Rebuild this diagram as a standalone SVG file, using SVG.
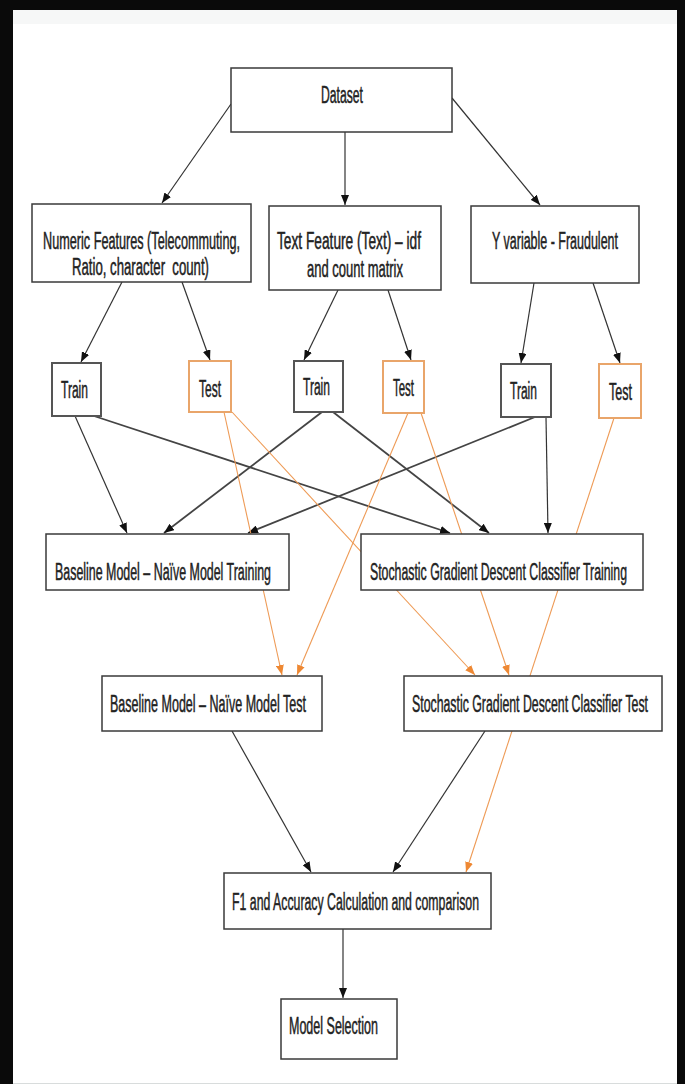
<svg xmlns="http://www.w3.org/2000/svg" width="685" height="1084" viewBox="0 0 685 1084">
<style>
.box{fill:#fff;stroke:#3a3a3a;stroke-width:1.5}
.train{fill:#fff;stroke:#555;stroke-width:2}
.test{fill:#fff;stroke:#E9A56A;stroke-width:2}
.t{font-family:"Liberation Sans",Arial,sans-serif;font-size:23px;fill:#222;stroke:#222;stroke-width:0.5}
.k{stroke:#333;stroke-width:1.2;fill:none}
.kb{stroke:#444;stroke-width:1.8;fill:none}
.o{stroke:#EE9A55;stroke-width:1.1;fill:none}
</style>
<defs>
<marker id="ak" markerUnits="userSpaceOnUse" markerWidth="10" markerHeight="8" refX="10" refY="4" orient="auto"><path d="M0,0 L10,4 L0,8 z" fill="#111"/></marker>
<marker id="ao" markerUnits="userSpaceOnUse" markerWidth="10" markerHeight="8" refX="10" refY="4" orient="auto"><path d="M0,0 L10,4 L0,8 z" fill="#EE8833"/></marker>
</defs>
<rect x="0" y="0" width="685" height="1084" fill="#0a0a0a"/>
<rect x="13" y="10" width="664" height="1074" fill="#fff"/>
<rect x="13" y="10" width="664" height="14" fill="#f6f7f7"/>
<line x1="13" y1="1083.5" x2="677" y2="1083.5" stroke="#d8dcdc" stroke-width="1"/>

<g id="connectors">
<line class="k" x1="231" y1="104" x2="162" y2="203" marker-end="url(#ak)"/>
<line class="k" x1="345" y1="132" x2="345" y2="205" marker-end="url(#ak)"/>
<line class="k" x1="452" y1="98" x2="540" y2="205" marker-end="url(#ak)"/>
<line class="k" x1="122" y1="282" x2="81" y2="362" marker-end="url(#ak)"/>
<line class="k" x1="182" y1="282" x2="210" y2="360" marker-end="url(#ak)"/>
<line class="k" x1="338" y1="290" x2="304" y2="360" marker-end="url(#ak)"/>
<line class="k" x1="388" y1="290" x2="411" y2="360" marker-end="url(#ak)"/>
<line class="k" x1="534" y1="283" x2="521" y2="363" marker-end="url(#ak)"/>
<line class="k" x1="593" y1="283" x2="620" y2="363" marker-end="url(#ak)"/>
<line class="k" x1="75" y1="416" x2="127" y2="533" marker-end="url(#ak)"/>
<line class="kb" x1="94" y1="416" x2="450" y2="533" marker-end="url(#ak)"/>
<line class="kb" x1="322" y1="412" x2="164" y2="533" marker-end="url(#ak)"/>
<line class="kb" x1="333" y1="412" x2="489" y2="533" marker-end="url(#ak)"/>
<line class="kb" x1="535" y1="417" x2="248" y2="533" marker-end="url(#ak)"/>
<line class="k" x1="546" y1="417" x2="548" y2="533" marker-end="url(#ak)"/>
<line class="o" x1="224" y1="412" x2="282" y2="675" marker-end="url(#ao)"/>
<line class="o" x1="232" y1="412" x2="475" y2="675" marker-end="url(#ao)"/>
<line class="o" x1="408" y1="413" x2="297" y2="675" marker-end="url(#ao)"/>
<line class="o" x1="421" y1="413" x2="509" y2="675" marker-end="url(#ao)"/>
<line class="o" x1="614" y1="418" x2="466" y2="872" marker-end="url(#ao)"/>
<line class="k" x1="232" y1="731" x2="311" y2="872" marker-end="url(#ak)"/>
<line class="k" x1="485" y1="731" x2="393" y2="872" marker-end="url(#ak)"/>
<line class="k" x1="343" y1="929" x2="343" y2="998" marker-end="url(#ak)"/>
</g>

<g id="dataset"><rect class="box" x="231" y="68" width="221" height="64"/><text class="t" transform="translate(321,103) scale(0.53,1)" textLength="79.2" lengthAdjust="spacingAndGlyphs">Dataset</text></g>
<g id="numeric"><rect class="box" x="32" y="204" width="219" height="78"/><text class="t" transform="translate(43,249) scale(0.53,1)" textLength="371.7" lengthAdjust="spacingAndGlyphs">Numeric Features (Telecommuting,</text><text class="t" xml:space="preserve" transform="translate(72,275) scale(0.53,1)" textLength="258.5" lengthAdjust="spacingAndGlyphs">Ratio, character  count)</text></g>
<g id="textfeature"><rect class="box" x="269" y="206" width="172" height="84"/><text class="t" transform="translate(277,249) scale(0.53,1)" textLength="271.7" lengthAdjust="spacingAndGlyphs">Text Feature (Text) – idf</text><text class="t" transform="translate(307,277) scale(0.53,1)" textLength="181.1" lengthAdjust="spacingAndGlyphs">and count matrix</text></g>
<g id="yvar"><rect class="box" x="471" y="206" width="168" height="77"/><text class="t" transform="translate(492,249) scale(0.53,1)" textLength="237.7" lengthAdjust="spacingAndGlyphs">Y variable - Fraudulent</text></g>
<g id="train1"><rect class="train" x="52" y="363" width="49" height="53"/><text class="t" transform="translate(61,398) scale(0.53,1)" textLength="50.9" lengthAdjust="spacingAndGlyphs">Train</text></g>
<g id="test1"><rect class="test" x="189" y="361" width="42" height="51"/><text class="t" transform="translate(199,397) scale(0.53,1)" textLength="41.5" lengthAdjust="spacingAndGlyphs">Test</text></g>
<g id="train2"><rect class="train" x="294" y="361" width="49" height="51"/><text class="t" transform="translate(303,395) scale(0.53,1)" textLength="50.9" lengthAdjust="spacingAndGlyphs">Train</text></g>
<g id="test2"><rect class="test" x="383" y="361" width="41" height="52"/><text class="t" transform="translate(393,396) scale(0.53,1)" textLength="39.6" lengthAdjust="spacingAndGlyphs">Test</text></g>
<g id="train3"><rect class="train" x="501" y="364" width="50" height="53"/><text class="t" transform="translate(510,399) scale(0.53,1)" textLength="50.9" lengthAdjust="spacingAndGlyphs">Train</text></g>
<g id="test3"><rect class="test" x="599" y="364" width="42" height="54"/><text class="t" transform="translate(609,400) scale(0.53,1)" textLength="43.4" lengthAdjust="spacingAndGlyphs">Test</text></g>
<g id="baseline-training"><rect class="box" x="46" y="534" width="243" height="56"/><text class="t" transform="translate(55,580) scale(0.53,1)" textLength="407.5" lengthAdjust="spacingAndGlyphs">Baseline Model – Naïve Model Training</text></g>
<g id="sgd-training"><rect class="box" x="361" y="534" width="282" height="56"/><text class="t" transform="translate(370,580) scale(0.53,1)" textLength="484.9" lengthAdjust="spacingAndGlyphs">Stochastic Gradient Descent Classifier Training</text></g>
<g id="baseline-test"><rect class="box" x="102" y="676" width="220" height="55"/><text class="t" transform="translate(110,712) scale(0.53,1)" textLength="369.8" lengthAdjust="spacingAndGlyphs">Baseline Model – Naïve Model Test</text></g>
<g id="sgd-test"><rect class="box" x="404" y="676" width="258" height="55"/><text class="t" transform="translate(412,712) scale(0.53,1)" textLength="445.3" lengthAdjust="spacingAndGlyphs">Stochastic Gradient Descent Classifier Test</text></g>
<g id="f1"><rect class="box" x="224" y="873" width="267" height="56"/><text class="t" transform="translate(232,910) scale(0.53,1)" textLength="466" lengthAdjust="spacingAndGlyphs">F1 and Accuracy Calculation and comparison</text></g>
<g id="model-selection"><rect class="box" x="281" y="999" width="116" height="60"/><text class="t" transform="translate(289,1034) scale(0.53,1)" textLength="167.9" lengthAdjust="spacingAndGlyphs">Model Selection</text></g>
</svg>
